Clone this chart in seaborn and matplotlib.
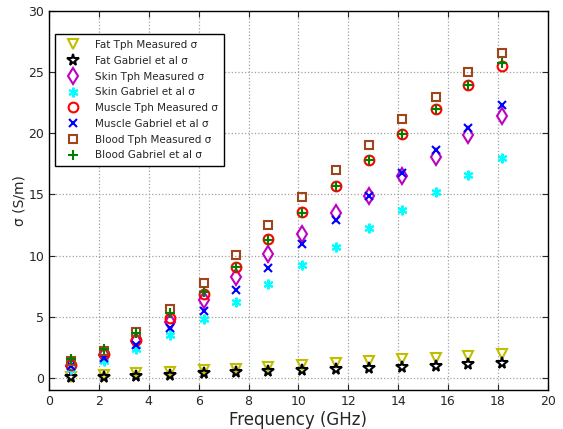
import matplotlib
matplotlib.use('Agg')
import matplotlib.pyplot as plt
import seaborn as sns

# Frequencies (GHz) and conductivity values (S/m)
freq = [0.9, 2.2, 3.5, 4.85, 6.2, 7.5, 8.8, 10.15, 11.5, 12.85, 14.15, 15.5, 16.8, 18.15]

fat_tph = [0.1, 0.25, 0.35, 0.45, 0.6, 0.75, 0.9, 1.05, 1.2, 1.35, 1.5, 1.65, 1.8, 1.95]
fat_gab = [0.02, 0.08, 0.15, 0.25, 0.35, 0.45, 0.55, 0.63, 0.72, 0.8, 0.9, 1.0, 1.1, 1.2]
skin_tph = [1.0, 1.85, 3.0, 4.6, 6.4, 8.27, 10.1, 11.8, 13.45, 14.85, 16.55, 18.1, 19.85, 21.45]
skin_gab = [0.75, 1.35, 2.35, 3.5, 4.82, 6.2, 7.65, 9.2, 10.7, 12.25, 13.75, 15.2, 16.6, 17.95]
muscle_tph = [1.08, 1.95, 3.11, 4.88, 6.85, 9.1, 11.38, 13.55, 15.7, 17.8, 19.92, 22.0, 23.98, 25.55]
muscle_gab = [0.95, 1.65, 2.7, 4.07, 5.48, 7.2, 9.0, 10.95, 12.87, 14.9, 16.72, 18.62, 20.46, 22.3]
blood_tph = [1.35, 2.22, 3.71, 5.6, 7.73, 10.08, 12.47, 14.83, 17.0, 19.05, 21.14, 22.96, 25.02, 26.6]
blood_gab = [1.5, 2.35, 3.66, 5.28, 7.05, 9.08, 11.25, 13.45, 15.7, 17.81, 19.92, 22.0, 23.98, 25.75]

labels = ['Fat Tph Measured \u03c3', 'Fat Gabriel et al \u03c3',
          'Skin Tph Measured \u03c3', 'Skin Gabriel et al \u03c3',
          'Muscle Tph Measured \u03c3', 'Muscle Gabriel et al \u03c3',
          'Blood Tph Measured \u03c3', 'Blood Gabriel et al \u03c3']

series = [fat_tph, fat_gab, skin_tph, skin_gab, muscle_tph, muscle_gab, blood_tph, blood_gab]
colors = ['#bfbf00', 'black', '#bf00bf', '#00ffff', 'red', 'blue', '#a0451a', 'green']
markers = ['v', '*', 'd', (6, 2, 0), 'o', 'x', 's', '+']
sizes = [7, 8.5, 8, 7, 7, 5.5, 6, 7.5]
filled = [False, False, False, True, False, True, False, True]

sns.set_style('ticks')
plt.rcParams['font.family'] = ['DejaVu Sans']

fig = plt.figure(figsize=(5.63, 4.29), dpi=100)
ax = fig.add_axes([0.087, 0.091, 0.886, 0.883])

for vals, lab, c, m, ms, f in zip(series, labels, colors, markers, sizes, filled):
    sns.lineplot(x=freq, y=vals, ax=ax, label=lab, color=c, marker=m,
                 linestyle='', markersize=ms, markerfacecolor=c if f else 'none',
                 markeredgecolor=c, markeredgewidth=1.5)

ax.set_xlim(0, 20)
ax.set_ylim(-1, 30)
ax.set_xticks(range(0, 21, 2))
ax.set_yticks(range(0, 31, 5))
ax.grid(True, linestyle=':', color='#a0a0a0', linewidth=0.9)
ax.tick_params(direction='in', top=True, right=True, labelsize=9, length=4)
for sp in ax.spines.values():
    sp.set_linewidth(1.0)
    sp.set_color('black')

ax.set_xlabel('Frequency (GHz)', fontsize=12, labelpad=2)
ax.set_ylabel('\u03c3 (S/m)', fontsize=10, labelpad=1)

leg = ax.legend(loc='upper left', bbox_to_anchor=(0.012, 0.94), borderaxespad=0,
                fontsize=7.5, frameon=True, fancybox=False, edgecolor='black',
                framealpha=1, handlelength=2.2, handletextpad=1.0,
                labelspacing=0.55, borderpad=0.6)
leg.get_frame().set_linewidth(1.0)

fig.savefig('out.png', dpi=100)
